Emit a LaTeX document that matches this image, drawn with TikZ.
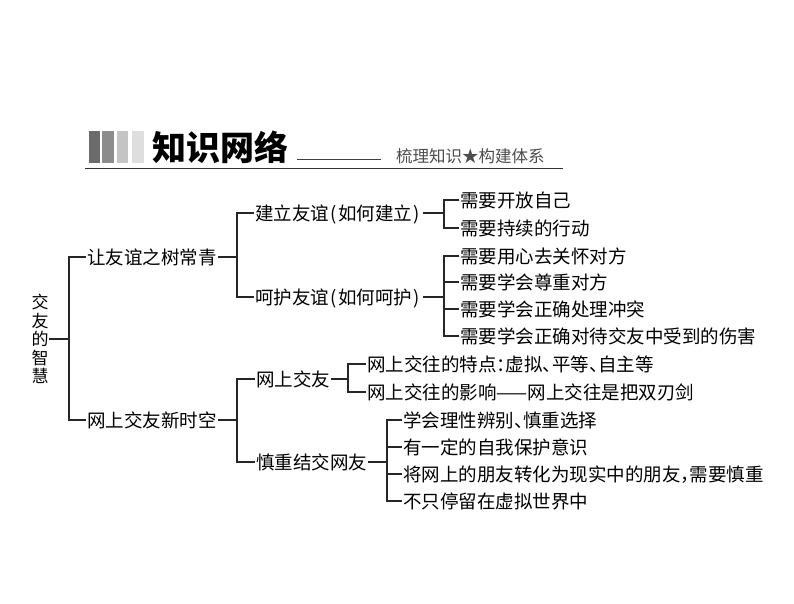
\documentclass[tikz,border=0pt]{standalone}
\usepackage{fontspec}
\newfontfamily\cjk{Noto Sans CJK SC}
\newcommand{\hw}[1]{\makebox[0.5em][l]{#1}}
\newcommand{\hp}[1]{\makebox[0.5em][c]{#1}}
\tikzset{
  lbl/.style={anchor=west, inner xsep=1pt, inner ysep=0pt, text height=16.3pt, text depth=2.3pt,
              font=\cjk\fontsize{18.5}{20}\selectfont, text=black},
  conn/.style={line width=1.1pt, draw=black!85},
}
\begin{document}
\begin{tikzpicture}[x=1pt, y=-1pt]
\useasboundingbox (0,0) rectangle (794,603);
% header
\fill[fill=black!58] (89,131) rectangle (100,163);
\fill[fill=black!45] (102,131) rectangle (114,163);
\fill[fill=black!23] (117,131) rectangle (128,163);
\fill[fill=black!13] (132,131) rectangle (144,163);
\node[anchor=west, inner sep=0pt, text height=29.5pt, text depth=4pt, font=\cjk\bfseries\fontsize{34}{36}\selectfont] (title) at (152,148) {知识网络};
\node[anchor=west, inner sep=0pt, text height=14pt, text depth=2pt, text=black!70, font=\cjk\fontsize{16.5}{18}\selectfont] (sub) at (396,156) {梳理知识★构建体系};
\coordinate (sl1) at (297,159);
\coordinate (sl2) at (381,159);
\draw[line width=0.8pt, draw=black!75] (sl1) -- (sl2);
\coordinate (bl1) at (85,168.5);
\coordinate (bl2) at (563,168.5);
\draw[line width=1.8pt, draw=black!80] (bl1) -- (bl2);

% root
\node[anchor=center, align=center, inner sep=0pt, font=\cjk\fontsize{17}{18.5}\selectfont] (root) at (40,339) {交\\友\\的\\智\\慧};
\coordinate (v0) at (69,339);

% level 1
\node[lbl] (r1) at (86,257) {让友谊之树常青};
\node[lbl] (r2) at (86,420) {网上交友新时空};
\coordinate (v1) at (237,257);
\coordinate (v4) at (237,420);

% level 2
\node[lbl] (a1) at (254,213) {建立友谊\hp{(}如何建立\hp{)}};
\node[lbl] (a2) at (254,297) {呵护友谊\hp{(}如何呵护\hp{)}};
\node[lbl] (d1) at (255,379) {网上交友};
\node[lbl] (d2) at (255,462) {慎重结交网友};
\coordinate (v2) at (444,213);
\coordinate (v3) at (444,297);
\coordinate (v5) at (348,379);
\coordinate (v6) at (387,462);

% level 3
\node[lbl] (c1) at (459,200) {需要开放自己};
\node[lbl] (c2) at (459,228) {需要持续的行动};
\node[lbl] (c3) at (459,256) {需要用心去关怀对方};
\node[lbl] (c4) at (459,282) {需要学会尊重对方};
\node[lbl] (c5) at (459,309) {需要学会正确处理冲突};
\node[lbl] (c6) at (459,336) {需要学会正确对待交友中受到的伤害};
\node[lbl] (e1) at (366,364) {网上交往的特点\hw{：}虚拟\hw{、}平等\hw{、}自主等};
\node[lbl] (e2) at (366,392) {网上交往的影响——网上交往是把双刃剑};
\node[lbl] (f1) at (402,420) {学会理性辨别\hw{、}慎重选择};
\node[lbl] (f2) at (402,447) {有一定的自我保护意识};
\node[lbl] (f3) at (402,474) {将网上的朋友转化为现实中的朋友\hw{，}需要慎重};
\node[lbl] (f4) at (402,501) {不只停留在虚拟世界中};

% connectors
\draw[conn] (root.east) -- (v0);
\draw[conn] (v0) |- (r1.west);
\draw[conn] (v0) |- (r2.west);

\draw[conn] (r1.east) -- (v1);
\draw[conn] (v1) |- (a1.west);
\draw[conn] (v1) |- (a2.west);

\draw[conn] (r2.east) -- (v4);
\draw[conn] (v4) |- (d1.west);
\draw[conn] (v4) |- (d2.west);

\draw[conn] (a1.east) -- (v2);
\draw[conn] (v2) |- (c1.west);
\draw[conn] (v2) |- (c2.west);

\draw[conn] (a2.east) -- (v3);
\draw[conn] (v3) |- (c3.west);
\draw[conn] (v3) |- (c4.west);
\draw[conn] (v3) |- (c5.west);
\draw[conn] (v3) |- (c6.west);

\draw[conn] (d1.east) -- (v5);
\draw[conn] (v5) |- (e1.west);
\draw[conn] (v5) |- (e2.west);

\draw[conn] (d2.east) -- (v6);
\draw[conn] (v6) |- (f1.west);
\draw[conn] (v6) |- (f2.west);
\draw[conn] (v6) |- (f3.west);
\draw[conn] (v6) |- (f4.west);
\end{tikzpicture}
\end{document}
